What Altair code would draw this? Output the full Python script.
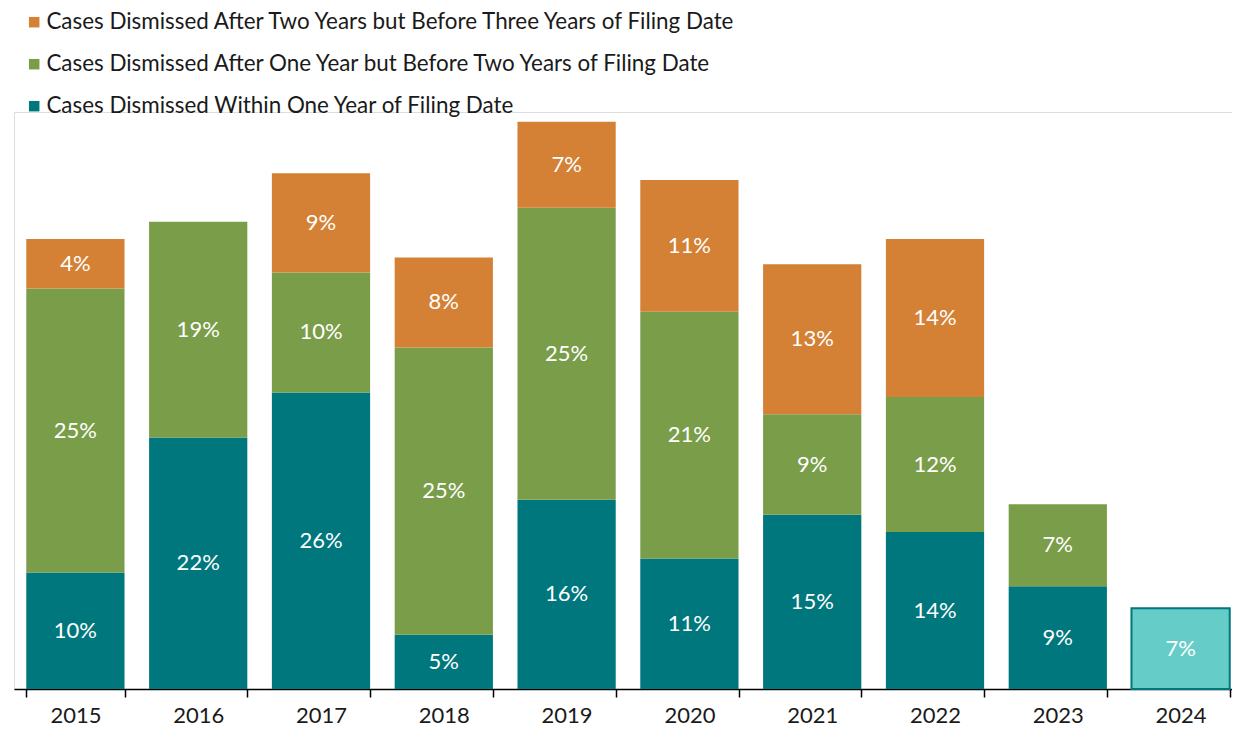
import altair as alt
import pandas as pd

years = ["2015", "2016", "2017", "2018", "2019", "2020", "2021", "2022", "2023"]
within_one_year = [10.1, 21.8, 25.7, 4.7, 16.4, 11.3, 15.1, 13.6, 8.9]
one_to_two_years = [24.6, 18.7, 10.4, 24.9, 25.3, 21.4, 8.7, 11.7, 7.1]
two_to_three_years = [4.3, 0, 8.6, 7.8, 7.45, 11.4, 13.0, 13.7, 0]

partial_year = ["2024"]
partial_within_one_year = [7.0]

all_years = years + partial_year

series_names = [
    "Cases Dismissed Within One Year of Filing Date",
    "Cases Dismissed After One Year but Before Two Years of Filing Date",
    "Cases Dismissed After Two Years but Before Three Years of Filing Date",
]
series_colors = ["#00777D", "#7A9D4A", "#D48136"]
partial_fill = "#66CCC8"

rows = []
for order, (name, vals) in enumerate(
    zip(series_names, [within_one_year, one_to_two_years, two_to_three_years])
):
    for y, v in zip(years, vals):
        if v > 0:
            rows.append({"year": y, "series": name, "value": v, "order": order})
df = pd.DataFrame(rows)

df_partial = pd.DataFrame(
    {"year": partial_year, "value": partial_within_one_year}
)

FONT = "Lato"
FS = 22

x_scale = alt.Scale(domain=all_years, paddingInner=0.2, paddingOuter=0.1, range=[0, 1228])
y_scale = alt.Scale(domain=[0, 50], nice=False)

x_enc = alt.X(
    "year:N",
    scale=x_scale,
    axis=alt.Axis(
        title=None,
        labelAngle=0,
        labelFontSize=FS,
        labelFont=FONT,
        labelColor="#1a1a1a",
        labelPadding=8,
        domainColor="#000000",
        domainWidth=1.5,
        tickColor="#000000",
        tickWidth=1.5,
        tickSize=8,
        tickBand="extent",
        grid=False,
    ),
)

base = (
    alt.Chart(df)
    .transform_stack(
        stack="value",
        groupby=["year"],
        sort=[alt.SortField("order", order="ascending")],
        as_=["y0", "y1"],
    )
    .transform_calculate(
        mid="(datum.y0 + datum.y1) / 2",
        label="format(datum.value, '.0f') + '%'",
    )
)

bars = base.mark_bar().encode(
    x=x_enc,
    y=alt.Y("y0:Q", scale=y_scale, axis=None),
    y2="y1:Q",
    color=alt.Color(
        "series:N",
        scale=alt.Scale(domain=series_names[::-1], range=series_colors[::-1]),
        legend=alt.Legend(
            title=None,
            orient="none",
            legendX=9,
            legendY=-101,
            labelFontSize=22.4,
            labelFont=FONT,
            labelColor="#1a1a1a",
            labelLimit=1000,
            symbolType="square",
            symbolSize=110,
            symbolStrokeWidth=0,
            rowPadding=19,
            labelOffset=1,
            padding=0,
        ),
    ),
)

texts = base.mark_text(color="white", fontSize=FS, font=FONT).encode(
    x=alt.X("year:N", scale=x_scale),
    y=alt.Y("mid:Q", scale=y_scale),
    text="label:N",
)

partial_base = alt.Chart(df_partial).transform_calculate(
    mid="datum.value / 2",
    label="format(datum.value, '.0f') + '%'",
)

partial_bar = partial_base.mark_bar(
    color=partial_fill, stroke="#00777D", strokeWidth=2
).encode(
    x=alt.X("year:N", scale=x_scale),
    y=alt.Y("value:Q", scale=y_scale),
)

partial_text = partial_base.mark_text(color="white", fontSize=FS, font=FONT).encode(
    x=alt.X("year:N", scale=x_scale),
    y=alt.Y("mid:Q", scale=y_scale),
    text="label:N",
)

chart = (
    alt.layer(bars, texts, partial_bar, partial_text)
    .properties(
        width=1218,
        height=577,
        autosize=alt.AutoSizeParams(type="none"),
        padding={"left": 6, "top": 104, "right": 0, "bottom": 39},
    )
    .configure_view(stroke=None)
    .configure(font=FONT)
)

chart.save("out.html", embed_options={"renderer": "svg", "actions": False})
